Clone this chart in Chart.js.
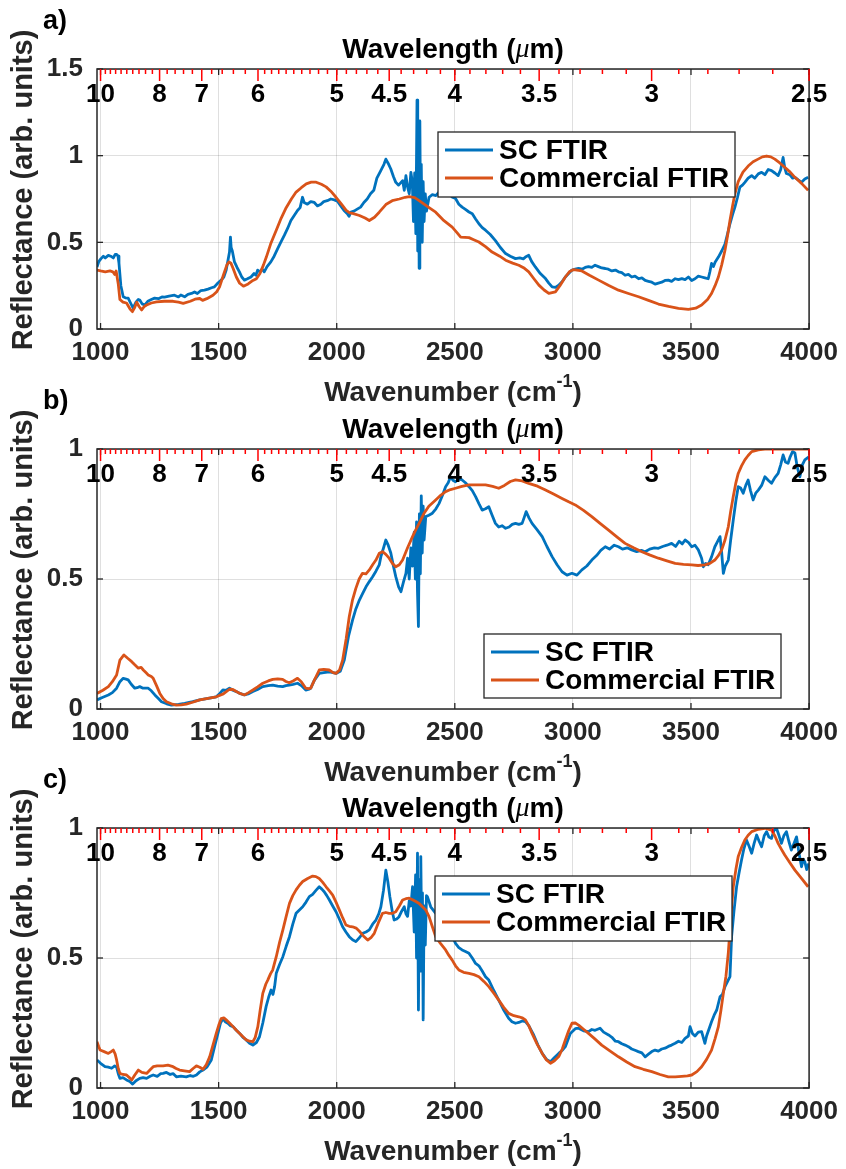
<!DOCTYPE html>
<html>
<head>
<meta charset="utf-8">
<title>Reflectance spectra: SC FTIR vs commercial FTIR</title>
<script src="https://cdn.jsdelivr.net/npm/chart.js@4.4.1/dist/chart.umd.min.js"></script>
<style>
  html, body { margin: 0; padding: 0; background: #ffffff; }
  #figure { position: relative; width: 846px; height: 1169px; overflow: hidden; background: #ffffff; }
  .panel { position: absolute; left: 0; width: 846px; height: 410px; }
  .panel canvas { display: block; }
</style>
</head>
<body>
<div id="figure">
  <div class="panel" style="top:0px"><canvas id="panelA" width="846" height="410"></canvas></div>
  <div class="panel" style="top:380px"><canvas id="panelB" width="846" height="410"></canvas></div>
  <div class="panel" style="top:759px"><canvas id="panelC" width="846" height="410"></canvas></div>
</div>
<script>
// ---- axes -------------------------------------------------------------
const wavenumberTicks = [1000, 1500, 2000, 2500, 3000, 3500, 4000];
const reflectanceTicksA = [0, 0.5, 1, 1.5];
const reflectanceTicksBC = [0, 0.5, 1];
const wavelengthMajor = [10, 8, 7, 6, 5, 4.5, 4, 3.5, 3, 2.5];          // µm
const wavelengthLabels = ['10', '8', '7', '6', '5', '4.5', '4', '3.5', '3', '2.5'];
const seriesNames = ['SC FTIR', 'Commercial FTIR'];

// ---- panel a: [wavenumber (cm^-1), reflectance] -----------------------
const aScFtir = [
  [985,0.358],[993,0.39],[1002,0.406],[1012,0.42],[1020,0.41],[1033,0.425],[1043,0.42],[1054,0.41],[1062,0.43],[1068,0.43],
  [1074,0.42],[1078,0.38],[1086,0.25],[1096,0.186],[1105,0.18],[1117,0.178],[1127,0.15],[1138,0.12],[1150,0.155],[1160,0.17],
  [1166,0.167],[1176,0.145],[1187,0.138],[1200,0.16],[1215,0.17],[1229,0.178],[1245,0.175],[1260,0.185],[1271,0.184],[1290,0.19],
  [1313,0.195],[1330,0.185],[1340,0.196],[1356,0.186],[1370,0.2],[1385,0.205],[1398,0.214],[1410,0.205],[1425,0.222],[1440,0.224],
  [1455,0.23],[1470,0.238],[1482,0.243],[1497,0.265],[1511,0.282],[1522,0.3],[1532,0.34],[1540,0.4],[1546,0.444],[1550,0.53],
  [1553,0.47],[1558,0.45],[1567,0.387],[1578,0.355],[1588,0.33],[1598,0.3],[1609,0.282],[1622,0.29],[1637,0.3],[1650,0.32],
  [1658,0.31],[1665,0.34],[1675,0.33],[1684,0.345],[1693,0.33],[1705,0.36],[1721,0.387],[1735,0.42],[1750,0.464],[1763,0.5],
  [1778,0.54],[1792,0.58],[1806,0.626],[1820,0.655],[1834,0.684],[1845,0.7],[1855,0.76],[1862,0.73],[1876,0.72],[1890,0.735],
  [1905,0.73],[1918,0.71],[1933,0.72],[1945,0.735],[1960,0.74],[1975,0.75],[1990,0.745],[2003,0.737],[2017,0.71],[2031,0.684],
  [2045,0.665],[2052,0.65],[2060,0.675],[2073,0.68],[2085,0.69],[2101,0.703],[2115,0.73],[2129,0.75],[2143,0.78],[2157,0.8],
  [2170,0.87],[2185,0.91],[2200,0.95],[2208,0.98],[2218,0.955],[2229,0.923],[2240,0.88],[2250,0.846],[2262,0.83],[2279,0.856],
  [2286,0.8],[2293,0.885],[2300,0.82],[2307,0.78],[2314,0.904],[2320,0.85],[2325,0.62],[2330,0.9],[2335,0.55],[2340,1.32],
  [2343,0.45],[2346,1.15],[2349,0.35],[2352,1.2],[2355,0.6],[2358,0.95],[2362,0.5],[2366,0.85],[2370,0.62],[2375,0.78],
  [2380,0.68],[2391,0.76],[2405,0.775],[2420,0.77],[2433,0.79],[2450,0.785],[2465,0.775],[2475,0.78],[2490,0.76],[2503,0.753],
  [2517,0.72],[2531,0.703],[2545,0.69],[2560,0.675],[2574,0.665],[2588,0.635],[2602,0.607],[2616,0.585],[2630,0.57],[2650,0.545],
  [2672,0.51],[2693,0.47],[2715,0.435],[2735,0.42],[2757,0.406],[2775,0.41],[2790,0.405],[2799,0.415],[2813,0.425],[2825,0.39],
  [2841,0.358],[2862,0.32],[2884,0.291],[2898,0.265],[2912,0.243],[2926,0.24],[2940,0.253],[2955,0.275],[2968,0.3],[2982,0.32],
  [2996,0.34],[3010,0.345],[3024,0.35],[3038,0.345],[3052,0.355],[3066,0.36],[3080,0.355],[3094,0.368],[3108,0.36],[3122,0.352],
  [3137,0.349],[3150,0.345],[3165,0.335],[3180,0.34],[3193,0.33],[3207,0.325],[3221,0.31],[3235,0.315],[3249,0.3],[3263,0.305],
  [3278,0.29],[3292,0.295],[3306,0.28],[3320,0.275],[3334,0.27],[3348,0.259],[3362,0.265],[3376,0.27],[3390,0.28],[3404,0.282],
  [3418,0.275],[3433,0.29],[3447,0.285],[3461,0.291],[3475,0.285],[3489,0.3],[3503,0.28],[3517,0.29],[3531,0.305],[3545,0.3],
  [3559,0.295],[3573,0.29],[3580,0.33],[3587,0.378],[3595,0.36],[3602,0.385],[3616,0.415],[3630,0.45],[3644,0.49],[3655,0.55],
  [3665,0.607],[3676,0.66],[3686,0.703],[3697,0.76],[3707,0.818],[3718,0.83],[3728,0.846],[3742,0.87],[3757,0.885],[3770,0.87],
  [3785,0.895],[3799,0.904],[3813,0.89],[3827,0.92],[3841,0.914],[3855,0.9],[3869,0.885],[3880,0.92],[3890,0.99],[3897,0.93],
  [3904,0.897],[3918,0.89],[3930,0.87],[3940,0.875],[3954,0.86],[3968,0.846],[3982,0.865],[3996,0.875]
];
const aCommercial = [
  [985,0.34],[1000,0.335],[1020,0.33],[1040,0.335],[1052,0.33],[1060,0.315],[1066,0.335],[1075,0.26],[1082,0.17],[1095,0.155],
  [1110,0.15],[1125,0.115],[1135,0.1],[1145,0.125],[1153,0.155],[1163,0.13],[1174,0.11],[1185,0.13],[1195,0.138],[1215,0.15],
  [1237,0.157],[1270,0.16],[1307,0.16],[1330,0.155],[1350,0.148],[1380,0.16],[1400,0.172],[1420,0.176],[1432,0.165],[1450,0.175],
  [1476,0.195],[1492,0.215],[1504,0.243],[1520,0.31],[1535,0.37],[1544,0.387],[1552,0.38],[1561,0.35],[1575,0.3],[1589,0.264],
  [1605,0.247],[1625,0.26],[1645,0.28],[1660,0.29],[1675,0.32],[1690,0.37],[1702,0.415],[1720,0.49],[1744,0.57],[1765,0.64],
  [1786,0.7],[1808,0.75],[1828,0.79],[1850,0.815],[1871,0.837],[1892,0.847],[1913,0.847],[1935,0.835],[1955,0.82],[1975,0.795],
  [1997,0.76],[2020,0.72],[2040,0.684],[2055,0.67],[2067,0.667],[2096,0.655],[2120,0.64],[2138,0.626],[2160,0.645],[2180,0.674],
  [2208,0.718],[2235,0.74],[2265,0.75],[2290,0.76],[2307,0.764],[2330,0.758],[2349,0.741],[2370,0.72],[2391,0.7],[2419,0.674],
  [2450,0.63],[2489,0.588],[2510,0.555],[2525,0.53],[2560,0.527],[2580,0.515],[2602,0.502],[2630,0.475],[2658,0.444],[2690,0.42],
  [2715,0.397],[2745,0.38],[2771,0.368],[2795,0.35],[2813,0.33],[2835,0.29],[2856,0.253],[2878,0.225],[2898,0.205],[2926,0.214],
  [2945,0.25],[2968,0.3],[2985,0.33],[3003,0.343],[3038,0.335],[3070,0.31],[3109,0.282],[3150,0.252],[3193,0.224],[3235,0.205],
  [3278,0.186],[3320,0.165],[3362,0.144],[3405,0.13],[3447,0.119],[3489,0.113],[3520,0.12],[3545,0.138],[3570,0.17],[3587,0.205],
  [3602,0.25],[3616,0.3],[3630,0.37],[3644,0.454],[3655,0.54],[3665,0.626],[3676,0.71],[3686,0.78],[3700,0.85],[3720,0.905],
  [3742,0.94],[3763,0.965],[3784,0.98],[3802,0.993],[3820,0.998],[3838,0.993],[3855,0.98],[3876,0.958],[3897,0.933],[3920,0.905],
  [3940,0.875],[3968,0.84],[3996,0.8]
];

// ---- panel b ----------------------------------------------------------
const bScFtir = [
  [985,0.035],[1010,0.045],[1033,0.054],[1050,0.063],[1068,0.08],[1082,0.105],[1096,0.118],[1108,0.115],[1117,0.112],[1130,0.095],
  [1145,0.08],[1155,0.082],[1166,0.086],[1180,0.08],[1202,0.08],[1215,0.07],[1230,0.054],[1245,0.04],[1258,0.028],[1280,0.02],
  [1300,0.015],[1330,0.018],[1356,0.022],[1390,0.028],[1420,0.035],[1455,0.041],[1490,0.047],[1505,0.06],[1518,0.073],[1532,0.072],
  [1546,0.08],[1560,0.072],[1575,0.067],[1590,0.06],[1609,0.054],[1625,0.058],[1645,0.067],[1665,0.075],[1687,0.086],[1710,0.09],
  [1729,0.092],[1750,0.088],[1771,0.086],[1785,0.09],[1799,0.092],[1815,0.095],[1834,0.099],[1850,0.09],[1869,0.073],[1880,0.075],
  [1890,0.08],[1905,0.11],[1926,0.137],[1945,0.14],[1968,0.143],[1985,0.14],[1997,0.137],[2015,0.145],[2032,0.188],[2050,0.28],
  [2067,0.342],[2081,0.385],[2096,0.419],[2110,0.445],[2124,0.47],[2138,0.49],[2152,0.509],[2166,0.53],[2180,0.554],[2187,0.586],
  [2200,0.625],[2208,0.65],[2218,0.63],[2229,0.6],[2240,0.55],[2250,0.509],[2262,0.47],[2272,0.451],[2283,0.49],[2293,0.522],
  [2300,0.58],[2307,0.5],[2314,0.62],[2321,0.55],[2328,0.68],[2333,0.5],[2338,0.72],[2342,0.45],[2346,0.317],[2350,0.75],
  [2354,0.52],[2358,0.82],[2362,0.6],[2366,0.78],[2370,0.65],[2377,0.74],[2390,0.745],[2405,0.753],[2420,0.77],[2433,0.79],
  [2447,0.82],[2461,0.855],[2472,0.87],[2482,0.893],[2492,0.88],[2503,0.874],[2517,0.885],[2531,0.881],[2545,0.87],[2560,0.855],
  [2574,0.84],[2588,0.817],[2602,0.79],[2616,0.765],[2630,0.77],[2644,0.778],[2658,0.745],[2672,0.714],[2686,0.7],[2700,0.705],
  [2715,0.695],[2730,0.7],[2743,0.71],[2757,0.714],[2771,0.71],[2785,0.714],[2795,0.74],[2802,0.759],[2814,0.735],[2827,0.714],
  [2848,0.69],[2870,0.663],[2890,0.625],[2912,0.586],[2933,0.555],[2954,0.528],[2975,0.515],[2996,0.522],[3017,0.515],[3038,0.535],
  [3059,0.55],[3080,0.573],[3100,0.59],[3118,0.61],[3137,0.624],[3155,0.615],[3175,0.63],[3193,0.624],[3210,0.615],[3230,0.62],
  [3249,0.612],[3270,0.605],[3290,0.61],[3306,0.605],[3325,0.615],[3345,0.62],[3362,0.618],[3380,0.625],[3398,0.63],[3418,0.637],
  [3435,0.625],[3450,0.645],[3463,0.635],[3475,0.65],[3490,0.64],[3503,0.624],[3517,0.63],[3531,0.612],[3545,0.58],[3552,0.547],
  [3562,0.56],[3573,0.555],[3587,0.585],[3601,0.624],[3610,0.64],[3623,0.663],[3630,0.6],[3637,0.522],[3645,0.55],[3658,0.573],
  [3668,0.65],[3679,0.727],[3690,0.8],[3700,0.855],[3710,0.85],[3721,0.83],[3732,0.86],[3742,0.881],[3752,0.84],[3763,0.804],
  [3774,0.83],[3785,0.842],[3799,0.86],[3813,0.893],[3827,0.88],[3841,0.868],[3855,0.89],[3869,0.906],[3880,0.94],[3890,0.977],
  [3900,0.95],[3911,0.945],[3920,0.97],[3930,0.99],[3940,0.985],[3950,0.93],[3961,0.893],[3972,0.94],[3982,0.958],[3999,0.97]
];
const bCommercial = [
  [985,0.06],[1010,0.072],[1033,0.086],[1050,0.105],[1068,0.131],[1082,0.188],[1099,0.208],[1115,0.195],[1132,0.182],[1145,0.17],
  [1160,0.157],[1172,0.16],[1181,0.15],[1192,0.14],[1202,0.131],[1215,0.125],[1223,0.118],[1237,0.09],[1251,0.06],[1265,0.04],
  [1279,0.028],[1300,0.02],[1321,0.015],[1342,0.016],[1363,0.019],[1390,0.026],[1420,0.035],[1455,0.041],[1490,0.047],[1520,0.058],
  [1546,0.076],[1560,0.075],[1575,0.067],[1590,0.06],[1609,0.054],[1625,0.062],[1645,0.073],[1665,0.085],[1687,0.099],[1710,0.108],
  [1729,0.114],[1750,0.116],[1771,0.114],[1785,0.106],[1799,0.101],[1815,0.108],[1834,0.118],[1850,0.105],[1869,0.08],[1880,0.078],
  [1890,0.08],[1905,0.11],[1926,0.15],[1945,0.152],[1968,0.15],[1985,0.14],[1997,0.137],[2012,0.15],[2025,0.188],[2040,0.27],
  [2053,0.355],[2067,0.42],[2081,0.464],[2095,0.5],[2109,0.522],[2124,0.52],[2138,0.535],[2152,0.555],[2166,0.573],[2180,0.599],
  [2194,0.605],[2208,0.595],[2222,0.58],[2236,0.56],[2250,0.547],[2265,0.555],[2279,0.573],[2300,0.62],[2321,0.663],[2335,0.69],
  [2349,0.714],[2370,0.753],[2390,0.78],[2419,0.804],[2440,0.822],[2461,0.836],[2482,0.844],[2503,0.849],[2530,0.856],[2560,0.862],
  [2595,0.862],[2630,0.862],[2660,0.856],[2686,0.849],[2710,0.86],[2735,0.875],[2757,0.881],[2785,0.877],[2813,0.868],[2850,0.857],
  [2884,0.842],[2920,0.826],[2954,0.81],[2982,0.797],[3010,0.785],[3045,0.764],[3080,0.74],[3115,0.714],[3151,0.688],[3186,0.662],
  [3221,0.637],[3257,0.62],[3292,0.605],[3327,0.592],[3362,0.58],[3398,0.57],[3433,0.56],[3468,0.556],[3503,0.554],[3530,0.552],
  [3559,0.554],[3580,0.56],[3601,0.573],[3616,0.59],[3630,0.612],[3644,0.65],[3658,0.701],[3668,0.76],[3679,0.817],[3690,0.87],
  [3700,0.906],[3714,0.935],[3728,0.958],[3742,0.975],[3757,0.99],[3785,0.997],[3813,1.0],[3850,1.0],[3897,1.0],[3950,1.0],[3996,1.0]
];

// ---- panel c ----------------------------------------------------------
const cScFtir = [
  [985,0.108],[1000,0.095],[1019,0.082],[1033,0.08],[1047,0.076],[1060,0.085],[1068,0.08],[1075,0.055],[1082,0.037],[1095,0.04],
  [1110,0.031],[1124,0.025],[1136,0.015],[1150,0.028],[1166,0.037],[1180,0.04],[1195,0.037],[1210,0.045],[1223,0.05],[1240,0.045],
  [1255,0.055],[1265,0.056],[1279,0.06],[1295,0.052],[1308,0.055],[1321,0.043],[1340,0.046],[1363,0.043],[1380,0.048],[1393,0.045],
  [1406,0.05],[1420,0.062],[1434,0.069],[1450,0.08],[1469,0.108],[1483,0.16],[1497,0.21],[1508,0.25],[1518,0.267],[1528,0.255],
  [1539,0.249],[1550,0.24],[1561,0.236],[1575,0.222],[1589,0.21],[1603,0.195],[1617,0.185],[1631,0.172],[1645,0.165],[1660,0.175],
  [1673,0.197],[1687,0.25],[1701,0.313],[1712,0.35],[1722,0.377],[1730,0.36],[1737,0.39],[1744,0.441],[1758,0.475],[1772,0.505],
  [1786,0.545],[1800,0.582],[1814,0.63],[1828,0.672],[1842,0.685],[1856,0.697],[1870,0.715],[1884,0.736],[1898,0.745],[1912,0.76],
  [1926,0.774],[1937,0.765],[1947,0.755],[1958,0.74],[1969,0.723],[1983,0.7],[1997,0.678],[2011,0.65],[2025,0.62],[2039,0.6],
  [2053,0.582],[2067,0.57],[2081,0.563],[2096,0.578],[2110,0.595],[2124,0.6],[2138,0.608],[2152,0.63],[2166,0.646],[2178,0.67],
  [2187,0.697],[2198,0.76],[2208,0.838],[2217,0.79],[2225,0.736],[2235,0.68],[2243,0.646],[2254,0.65],[2264,0.659],[2275,0.68],
  [2286,0.697],[2293,0.67],[2300,0.66],[2307,0.72],[2314,0.7],[2321,0.774],[2328,0.6],[2334,0.82],[2338,0.5],[2342,0.903],
  [2346,0.3],[2350,0.8],[2354,0.45],[2356,0.89],[2360,0.55],[2363,0.75],[2366,0.262],[2370,0.7],[2375,0.55],[2380,0.74],
  [2384,0.736],[2398,0.697],[2419,0.672],[2433,0.66],[2447,0.646],[2461,0.64],[2475,0.625],[2489,0.585],[2503,0.556],[2517,0.54],
  [2531,0.531],[2545,0.525],[2560,0.518],[2574,0.5],[2588,0.479],[2602,0.47],[2616,0.45],[2630,0.428],[2644,0.415],[2665,0.375],
  [2686,0.338],[2707,0.3],[2728,0.268],[2742,0.255],[2757,0.249],[2771,0.252],[2785,0.258],[2799,0.255],[2813,0.24],[2834,0.204],
  [2852,0.165],[2870,0.133],[2888,0.11],[2905,0.101],[2920,0.115],[2940,0.133],[2955,0.145],[2968,0.159],[2989,0.21],[3010,0.228],
  [3024,0.23],[3045,0.22],[3066,0.217],[3080,0.225],[3094,0.222],[3115,0.23],[3130,0.215],[3151,0.204],[3165,0.195],[3180,0.18],
  [3193,0.178],[3207,0.17],[3221,0.165],[3235,0.159],[3249,0.15],[3263,0.145],[3277,0.14],[3292,0.135],[3306,0.12],[3320,0.13],
  [3334,0.14],[3348,0.146],[3362,0.142],[3376,0.15],[3390,0.153],[3404,0.16],[3418,0.165],[3433,0.172],[3447,0.18],[3461,0.175],
  [3475,0.191],[3489,0.2],[3496,0.236],[3506,0.21],[3517,0.2],[3531,0.215],[3545,0.217],[3559,0.172],[3566,0.2],[3587,0.255],
  [3598,0.28],[3609,0.3],[3623,0.351],[3633,0.36],[3644,0.39],[3655,0.41],[3665,0.428],[3672,0.582],[3682,0.68],[3693,0.774],
  [3704,0.83],[3714,0.877],[3724,0.92],[3735,0.954],[3746,0.93],[3757,0.903],[3767,0.94],[3778,0.973],[3788,0.95],[3799,0.928],
  [3810,0.97],[3820,0.986],[3830,0.965],[3841,0.96],[3851,0.99],[3862,0.999],[3873,0.97],[3883,0.941],[3893,0.97],[3904,0.986],
  [3914,0.95],[3925,0.915],[3936,0.94],[3947,0.966],[3958,0.9],[3968,0.851],[3975,0.88],[3982,0.87],[3990,0.84],[3999,0.864]
];
const cCommercial = [
  [985,0.178],[992,0.16],[998,0.146],[1015,0.14],[1033,0.133],[1045,0.14],[1054,0.146],[1062,0.13],[1068,0.108],[1075,0.075],
  [1082,0.056],[1095,0.052],[1110,0.05],[1122,0.04],[1132,0.031],[1145,0.05],[1160,0.069],[1175,0.06],[1195,0.056],[1210,0.07],
  [1223,0.082],[1240,0.085],[1265,0.085],[1285,0.088],[1307,0.082],[1320,0.075],[1335,0.069],[1355,0.066],[1377,0.063],[1392,0.075],
  [1406,0.085],[1420,0.08],[1434,0.072],[1448,0.09],[1462,0.12],[1476,0.165],[1490,0.21],[1500,0.24],[1511,0.267],[1522,0.27],
  [1532,0.262],[1546,0.25],[1561,0.236],[1575,0.222],[1589,0.21],[1603,0.197],[1617,0.185],[1631,0.18],[1645,0.178],[1655,0.195],
  [1666,0.236],[1676,0.3],[1687,0.364],[1700,0.4],[1708,0.415],[1720,0.44],[1729,0.454],[1744,0.505],[1758,0.56],[1772,0.608],
  [1786,0.66],[1800,0.71],[1814,0.74],[1828,0.762],[1842,0.78],[1856,0.794],[1877,0.806],[1898,0.815],[1912,0.813],[1926,0.806],
  [1940,0.792],[1955,0.774],[1969,0.758],[1983,0.742],[1997,0.715],[2011,0.685],[2025,0.655],[2039,0.627],[2053,0.622],[2067,0.62],
  [2082,0.615],[2096,0.603],[2113,0.585],[2131,0.569],[2145,0.578],[2159,0.595],[2176,0.635],[2194,0.672],[2208,0.675],[2222,0.672],
  [2236,0.672],[2250,0.678],[2265,0.7],[2279,0.723],[2293,0.728],[2307,0.73],[2321,0.724],[2335,0.717],[2349,0.71],[2363,0.697],
  [2377,0.685],[2391,0.659],[2405,0.62],[2419,0.582],[2440,0.555],[2461,0.531],[2475,0.51],[2489,0.492],[2503,0.47],[2517,0.454],
  [2537,0.445],[2560,0.441],[2581,0.436],[2602,0.428],[2623,0.41],[2644,0.39],[2665,0.365],[2686,0.338],[2707,0.31],[2728,0.287],
  [2750,0.278],[2771,0.274],[2785,0.27],[2799,0.262],[2813,0.24],[2827,0.21],[2848,0.17],[2870,0.133],[2888,0.108],[2905,0.095],
  [2922,0.105],[2940,0.121],[2955,0.15],[2968,0.185],[2982,0.22],[2996,0.249],[3010,0.25],[3024,0.242],[3045,0.226],[3066,0.21],
  [3094,0.188],[3122,0.165],[3158,0.142],[3193,0.12],[3228,0.1],[3263,0.082],[3298,0.072],[3334,0.063],[3369,0.052],[3404,0.043],
  [3433,0.043],[3461,0.045],[3485,0.047],[3503,0.05],[3525,0.063],[3545,0.082],[3566,0.11],[3587,0.146],[3602,0.19],[3616,0.236],
  [3627,0.3],[3637,0.364],[3648,0.43],[3658,0.52],[3668,0.65],[3679,0.774],[3690,0.84],[3700,0.89],[3714,0.925],[3728,0.954],
  [3742,0.972],[3757,0.986],[3785,0.995],[3813,0.999],[3841,0.992],[3855,0.97],[3869,0.941],[3883,0.918],[3897,0.896],[3918,0.867],
  [3940,0.838],[3968,0.806],[3996,0.774]
];

// ---- styling ----------------------------------------------------------
const FONT = '"Liberation Sans", Arial, Helvetica, sans-serif';
const INK = '#262626';
const SC_BLUE = '#0072BD';
const COMMERCIAL_ORANGE = '#D95319';

// minor wavelength ticks: 0.2 µm steps down to 6 µm, 0.1 µm steps below
const wavelengthMinor = [];
for (let k = 99; k >= 25; k--) {
  const lam = k / 10;
  if (lam > 6 && k % 2 === 1) continue;
  if (wavelengthMajor.some(m => Math.abs(m - lam) < 1e-6)) continue;
  wavelengthMinor.push(lam);
}

const toPoints = rows => rows.map(([wn, r]) => ({ x: wn, y: r }));

function seg(ctx, x1, y1, x2, y2) {
  ctx.beginPath(); ctx.moveTo(x1, y1); ctx.lineTo(x2, y2); ctx.stroke();
}

// frame, inward ticks, wavelength axis, titles and legend
const spectrumFrame = {
  id: 'spectrumFrame',
  afterDatasetsDraw(chart, args, opts) {
    const { ctx, chartArea: ca, scales: { x, y } } = chart;
    ctx.save();

    // box
    ctx.strokeStyle = INK; ctx.lineWidth = 1.5;
    ctx.strokeRect(ca.left, ca.top, ca.right - ca.left, ca.bottom - ca.top);

    // inward black ticks on all four sides
    ctx.lineWidth = 1.3;
    x.ticks.forEach(t => {
      const p = x.getPixelForValue(t.value);
      seg(ctx, p, ca.bottom, p, ca.bottom - 6);
      seg(ctx, p, ca.top, p, ca.top + 6);
    });
    y.ticks.forEach(t => {
      const p = y.getPixelForValue(t.value);
      seg(ctx, ca.left, p, ca.left + 6, p);
      seg(ctx, ca.right, p, ca.right - 6, p);
    });

    // wavelength axis on top (red ticks, labels inside the frame)
    ctx.strokeStyle = '#ff0000'; ctx.lineWidth = 1.5;
    wavelengthMinor.forEach(lam => {
      const p = x.getPixelForValue(1e4 / lam);
      if (p >= ca.left - 0.5 && p <= ca.right + 0.5) seg(ctx, p, ca.top, p, ca.top + 5);
    });
    wavelengthMajor.forEach(lam => {
      const p = x.getPixelForValue(1e4 / lam);
      seg(ctx, p, ca.top, p, ca.top + 12);
    });
    ctx.fillStyle = '#000';
    ctx.font = `bold 26px ${FONT}`;
    ctx.textAlign = 'center'; ctx.textBaseline = 'middle';
    wavelengthMajor.forEach((lam, i) => {
      ctx.fillText(wavelengthLabels[i], x.getPixelForValue(1e4 / lam), ca.top + 26);
    });

    // panel tag
    ctx.textAlign = 'left';
    ctx.font = `bold 27px ${FONT}`;
    ctx.fillText(opts.tag, 43, 22);

    const cx = (ca.left + ca.right) / 2;

    // "Wavelength (µm)"
    {
      const pre = 'Wavelength (', mu = '\u03BC', post = 'm)';
      const fb = `bold 28px ${FONT}`, fm = `italic 28px "Liberation Serif", serif`;
      ctx.font = fb; const w1 = ctx.measureText(pre).width, w3 = ctx.measureText(post).width;
      ctx.font = fm; const w2 = ctx.measureText(mu).width;
      let xx = cx - (w1 + w2 + w3) / 2;
      const yy = ca.top - 19;
      ctx.fillStyle = '#000';
      ctx.font = fb; ctx.fillText(pre, xx, yy); xx += w1;
      ctx.font = fm; ctx.fillText(mu, xx, yy); xx += w2;
      ctx.font = fb; ctx.fillText(post, xx, yy);
    }

    // "Wavenumber (cm⁻¹)"
    {
      const pre = 'Wavenumber (cm', sup = '-1', post = ')';
      const fb = `bold 28px ${FONT}`, fs = `bold 18px ${FONT}`;
      ctx.font = fb; const w1 = ctx.measureText(pre).width, w3 = ctx.measureText(post).width;
      ctx.font = fs; const w2 = ctx.measureText(sup).width;
      let xx = cx - (w1 + w2 + w3) / 2;
      const yy = ca.bottom + 64;
      ctx.fillStyle = INK;
      ctx.font = fb; ctx.fillText(pre, xx, yy); xx += w1;
      ctx.font = fs; ctx.fillText(sup, xx, yy - 11); xx += w2;
      ctx.font = fb; ctx.fillText(post, xx, yy);
    }

    // "Reflectance (arb. units)", rotated
    {
      ctx.save();
      ctx.translate(23.5, 190);
      ctx.rotate(-Math.PI / 2);
      ctx.font = `bold 29px ${FONT}`;
      ctx.fillStyle = INK;
      ctx.textAlign = 'center'; ctx.textBaseline = 'middle';
      ctx.fillText('Reflectance (arb. units)', 0, 0);
      ctx.restore();
    }

    // legend box
    const lg = opts.legend;
    ctx.fillStyle = '#fff';
    ctx.fillRect(lg.left, lg.top, lg.width, lg.height);
    ctx.strokeStyle = INK; ctx.lineWidth = 1.3;
    ctx.strokeRect(lg.left, lg.top, lg.width, lg.height);
    ctx.font = `bold 28px ${FONT}`;
    ctx.textAlign = 'left'; ctx.textBaseline = 'middle';
    chart.data.datasets.forEach((ds, i) => {
      const cy = lg.top + 18 + i * 28;
      ctx.strokeStyle = ds.borderColor; ctx.lineWidth = ds.borderWidth;
      seg(ctx, lg.left + 7, cy, lg.left + 55, cy);
      ctx.fillStyle = '#000';
      ctx.fillText(ds.label, lg.left + 61, cy + 1);
    });

    ctx.restore();
  }
};

function makePanel(canvasId, tag, yMax, yTicks, scRows, commercialRows, legendBox) {
  return new Chart(document.getElementById(canvasId), {
    type: 'line',
    data: {
      datasets: [
        { label: seriesNames[0], data: toPoints(scRows), borderColor: SC_BLUE, borderWidth: 2.8,
          pointRadius: 0, tension: 0, fill: false, order: 2, borderJoinStyle: 'round' },
        { label: seriesNames[1], data: toPoints(commercialRows), borderColor: COMMERCIAL_ORANGE, borderWidth: 2.8,
          pointRadius: 0, tension: 0, fill: false, order: 1, borderJoinStyle: 'round' }
      ]
    },
    options: {
      responsive: false,
      animation: false,
      devicePixelRatio: 1,
      events: [],
      layout: { padding: { top: 69, right: 35, left: 0, bottom: 0 } },
      plugins: {
        legend: { display: false },
        tooltip: { enabled: false },
        spectrumFrame: { tag, legend: legendBox }
      },
      scales: {
        x: {
          type: 'linear', position: 'bottom', min: 985, max: 4000,
          afterBuildTicks: s => { s.ticks = wavenumberTicks.map(v => ({ value: v })); },
          afterFit: s => { s.height = 81; },
          grid: { color: 'rgba(38,38,38,0.15)', lineWidth: 1, drawTicks: false },
          border: { display: false },
          ticks: { color: INK, padding: 8, maxRotation: 0, autoSkip: false,
                   font: { family: FONT, size: 26, weight: 'bold' }, callback: v => String(v) }
        },
        y: {
          type: 'linear', position: 'left', min: 0, max: yMax,
          afterBuildTicks: s => { s.ticks = yTicks.map(v => ({ value: v })); },
          afterFit: s => { s.width = 97; },
          grid: { color: 'rgba(38,38,38,0.15)', lineWidth: 1, drawTicks: false },
          border: { display: false },
          ticks: { color: INK, padding: 14, autoSkip: false,
                   font: { family: FONT, size: 26, weight: 'bold' }, callback: v => String(v) }
        }
      }
    },
    plugins: [spectrumFrame]
  });
}

makePanel('panelA', 'a)', 1.5, reflectanceTicksA, aScFtir, aCommercial,
          { left: 438, top: 132, width: 297, height: 65 });
makePanel('panelB', 'b)', 1, reflectanceTicksBC, bScFtir, bCommercial,
          { left: 484, top: 254, width: 297, height: 64 });
makePanel('panelC', 'c)', 1, reflectanceTicksBC, cScFtir, cCommercial,
          { left: 435, top: 117, width: 297, height: 65 });
</script>
</body>
</html>
